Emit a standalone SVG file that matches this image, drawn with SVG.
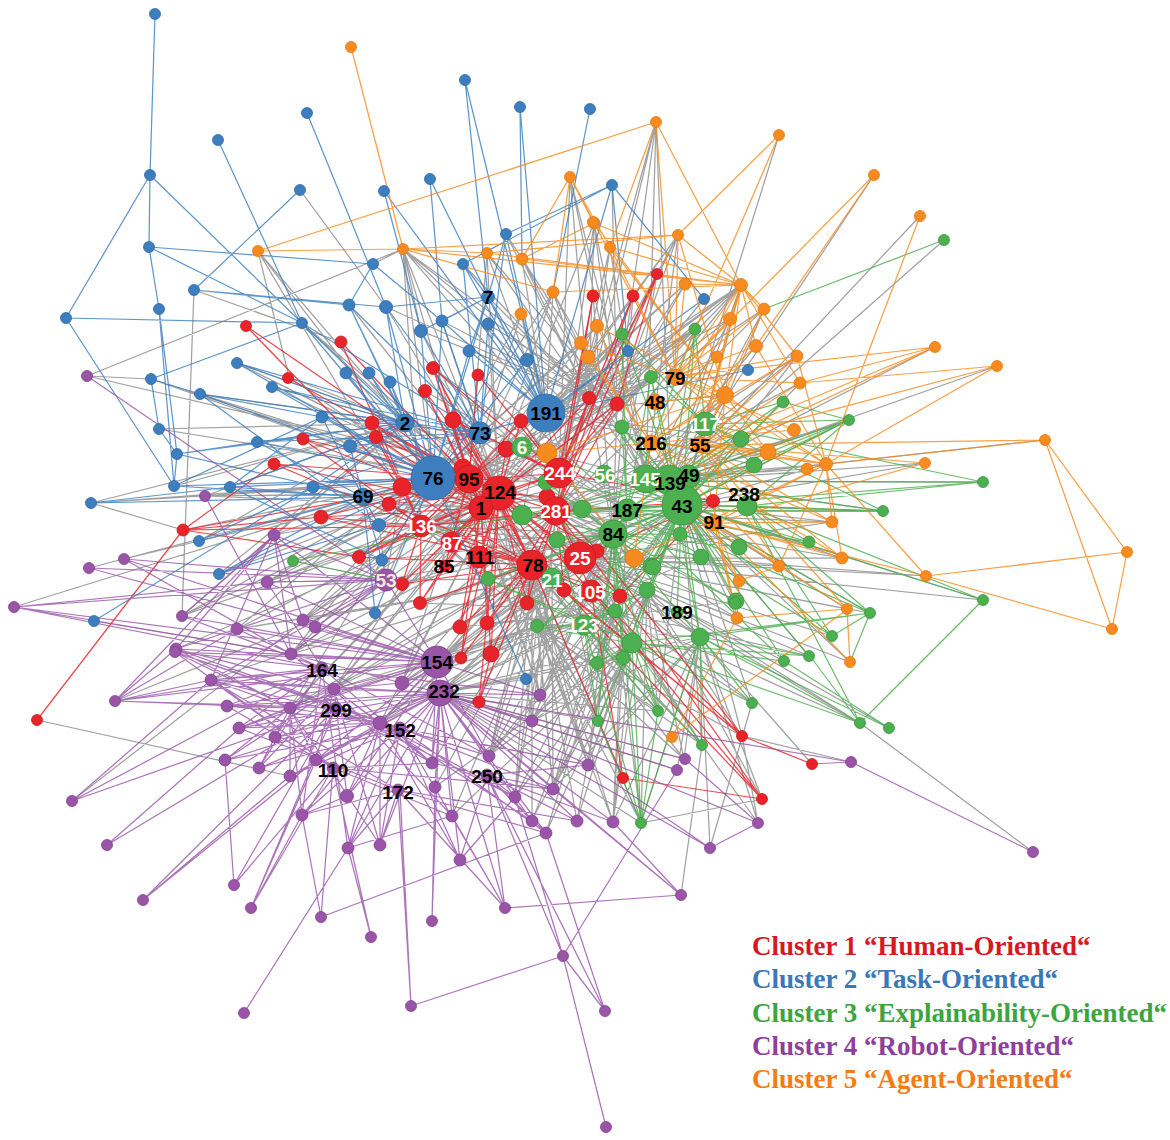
<svg xmlns="http://www.w3.org/2000/svg" width="1170" height="1140" viewBox="0 0 1170 1140">
<style>
.e{fill:none;stroke-width:1.25;stroke-linecap:round;opacity:.82}
.eg{stroke:#8c8c8c}.er{stroke:#e8222a}.eb{stroke:#3c7fc0}.egr{stroke:#4dae4f}.eo{stroke:#f78b1f}.ep{stroke:#9a57aa}
.B{fill:#3d7ebf;stroke:#2f6aa5;stroke-width:.8}
.R{fill:#e8242a;stroke:#c81a20;stroke-width:.8}
.G{fill:#4caf50;stroke:#3c963f;stroke-width:.8}
.P{fill:#9a55a8;stroke:#82418f;stroke-width:.8}
.O{fill:#f78b1f;stroke:#e07812;stroke-width:.8}
.t{font-family:"Liberation Sans",Arial,sans-serif;font-weight:bold;font-size:19px;text-anchor:middle;dominant-baseline:central}
.k{fill:#000}.w{fill:#fff}.c{fill:#f6ecd2}
.lg{font-family:"Liberation Serif","Times New Roman",serif;font-weight:bold;font-size:27px}
</style>
<rect width="1170" height="1140" fill="#fff"/>
<g id="connectors">
<path class="e eg" d="M433 478L290 708M433 478L291 654M433 478L386 580M433 478L274 535M433 478L205 496M433 478L182 616M433 478L267 582M433 478L303 620M433 478L522 515M433 478L582 506M433 478L546 482M433 478L488 579M433 478L557 540M433 478L547 453M433 478L403 249M433 478L258 251M433 478L553 292M433 478L521 314M433 478L581 343M433 478L588 357M433 478L597 326M433 478L151 379M433 478L91 503M433 478L183 530M433 478L289 377
M546 413L741 285M546 413L678 235M546 413L685 284M546 413L730 319M546 413L725 395M546 413L695 329M546 413L622 334M546 413L651 377M546 413L768 452M546 413L622 427M546 413L741 439M546 413L754 465M546 413L582 506M546 413L522 515M546 413L403 249M546 413L487 253M546 413L522 259M546 413L553 292M546 413L402 487M546 413L402 584
M682 505L741 285M682 505L764 309M682 505L797 356M682 505L800 383M682 505L826 464M682 505L849 420M682 505L925 463M682 505L883 511M682 505L832 522M682 505L842 558M682 505L779 566M682 505L739 581M682 505L737 618M682 505L847 609M682 505L850 662M682 505L809 656M682 505L870 613M682 505L983 600M682 505L735 603M682 505L702 745M682 505L658 711M682 505L598 721M682 505L752 703M682 505L742 736M682 505L589 398M682 505L617 404M682 505L713 501M682 505L559 473M682 505L556 511M682 505L532 565M682 505L580 558M682 505L440 693M682 505L437 662M682 505L532 721M682 505L540 695M682 505L489 756
M440 693L598 721M440 693L641 823M440 693L658 711M440 693L597 663M440 693L632 643M440 693L700 637M440 693L615 611M440 693L542 628M440 693L526 679M440 693L684 759M440 693L677 770M440 693L623 658M440 693L647 590
M499 493L290 708M499 493L334 689M499 493L380 723M499 493L402 683M499 493L540 695M499 493L532 721M499 493L588 765M499 493L237 629M499 493L303 620M499 493L267 582M499 493L274 535M499 493L205 496M499 493L151 379M499 493L237 363M499 493L302 323M499 493L386 307M499 493L349 305M499 493L421 331M499 493L442 321M499 493L488 324M499 493L403 249M499 493L487 253M499 493L651 377M499 493L695 329M499 493L622 334
M532 565L437 662M532 565L489 756M532 565L515 797M532 565L553 789M532 565L588 765M532 565L613 822M532 565L641 823M532 565L598 721M532 565L702 745M532 565L684 759M532 565L577 821M532 565L532 821M532 565L380 723M532 565L334 689M532 565L290 708M532 565L211 680
M580 558L658 711M580 558L702 745M580 558L752 703M580 558L860 723M580 558L809 656M580 558L784 661M580 558L870 613M580 558L832 636M580 558L847 609M580 558L850 662M580 558L737 618M580 558L779 566M580 558L842 558M580 558L832 522M580 558L926 576M580 558L983 600
M671 481L935 347M671 481L997 366M671 481L1045 440M671 481L925 463M671 481L944 240M671 481L874 175M671 481L920 216M671 481L779 135M671 481L656 122M671 481L741 285M671 481L764 309M671 481L849 420M671 481L983 482M671 481L883 511
M559 473L657 274M559 473L633 296M559 473L593 296M559 473L656 122M559 473L570 177M559 473L594 223M559 473L610 247M559 473L678 235M559 473L685 284M559 473L741 285M559 473L597 326M559 473L695 329M559 473L622 334M559 473L521 314
M405 423L546 482M405 423L522 515M405 423L582 506M405 423L547 453M405 423L258 251M405 423L289 377M405 423L237 363M405 423L272 387M405 423L200 394M405 423L159 429M405 423L257 442M405 423L174 486M405 423L230 487M405 423L91 503M405 423L199 541M405 423L219 574M405 423L182 616M405 423L274 535M405 423L205 496
M386 580L402 487M386 580L379 525M386 580L382 560M386 580L359 557M386 580L293 561M386 580L433 478
M632 643L489 756M632 643L515 797M632 643L553 789M632 643L588 765M632 643L531 821M632 643L546 833M632 643L577 821M632 643L613 822M632 643L452 816M632 643L435 787
M700 637L588 765M700 637L613 822M700 637L684 759M700 637L677 770M700 637L710 848M700 637L758 823M700 637L641 823M700 637L553 789M700 637L532 721
M537 626L290 708M537 626L334 689M537 626L380 723M537 626L402 683M537 626L437 662M537 626L489 756M537 626L515 797M537 626L553 789M537 626L588 765M537 626L613 822M537 626L641 823M537 626L598 721M537 626L658 711M537 626L702 745M537 626L684 759M537 626L742 736M537 626L736 601M537 626L700 637M537 626L651 566M537 626L701 557
M615 611L402 683M615 611L437 662M615 611L489 756M615 611L515 797M615 611L553 789M615 611L532 821M615 611L546 833M615 611L577 821M615 611L641 823M615 611L702 745M615 611L752 703M615 611L860 723M615 611L809 656M615 611L420 603M615 611L460 627M615 611L487 623
M647 590L532 721M647 590L540 695M647 590L588 765M647 590L553 789M647 590L613 822M647 590L641 823M647 590L658 711M647 590L684 759M647 590L742 736M647 590L762 799M647 590L860 723M647 590L889 728
M589 398L403 249M589 398L487 253M589 398L522 259M589 398L553 292M589 398L570 177M589 398L594 223M589 398L610 247M589 398L656 122M589 398L678 235M589 398L741 285M589 398L463 264M589 398L506 234M589 398L488 297M589 398L442 321M589 398L421 331M589 398L386 307
M617 404L403 249M617 404L487 253M617 404L522 259M617 404L553 292M617 404L570 177M617 404L594 223M617 404L656 122M617 404L678 235M617 404L685 284M617 404L730 319M617 404L764 309M617 404L506 234M617 404L612 185M617 404L704 299M617 404L488 324M617 404L527 360
M469 479L622 334M469 479L651 377M469 479L695 329M469 479L741 285M469 479L685 284M469 479L597 326M469 479L521 314M469 479L553 292M469 479L487 253M469 479L403 249M469 479L302 323M469 479L237 363M469 479L272 387M469 479L200 394M469 479L159 429M469 479L257 442M469 479L91 503M469 479L199 541M469 479L219 574M469 479L293 561M469 479L267 582M469 479L303 620M469 479L291 654M469 479L334 689M469 479L402 683M469 479L540 695M469 479L598 721M469 479L632 643M469 479L700 637
M556 511L741 285M556 511L764 309M556 511L797 356M556 511L849 420M556 511L800 383M556 511L741 439M556 511L754 465M556 511L883 511M556 511L832 522M556 511L842 558M556 511L739 547M556 511L701 557M556 511L736 601M556 511L737 618M556 511L700 637M556 511L632 643M556 511L658 711M556 511L702 745M556 511L598 721M556 511L540 695M556 511L532 721M556 511L489 756M556 511L437 662M556 511L402 683M556 511L334 689M556 511L291 654
M613 534L402 487M613 534L379 525M613 534L382 560M613 534L386 580M613 534L402 584M613 534L420 603M613 534L437 662M613 534L440 693M613 534L380 723M613 534L489 756M613 534L532 721M613 534L540 695M613 534L588 765M613 534L526 679M613 534L421 526M613 534L451 542M613 534L479 557M613 534L463 468M613 534L433 368M613 534L453 420M613 534L521 421M613 534L589 398M613 534L617 404M613 534L657 274M613 534L633 296M613 534L593 296
M627 510L433 368M627 510L478 375M627 510L425 391M627 510L453 420M627 510L402 487M627 510L389 504M627 510L421 526M627 510L379 525M627 510L402 584M627 510L460 627M627 510L487 623M627 510L491 654M627 510L437 662M627 510L440 693M627 510L532 721M627 510L489 756M627 510L588 765M627 510L553 789M627 510L613 822
M481 508L622 334M481 508L651 377M481 508L741 285M481 508L678 235M481 508L594 223M481 508L553 292M481 508L741 439M481 508L754 465M481 508L632 643M481 508L700 637M481 508L598 721M481 508L658 711M481 508L540 695M481 508L291 654M481 508L290 708M481 508L334 689M481 508L267 582M481 508L182 616M481 508L205 496
M421 526L546 482M421 526L522 515M421 526L582 509M421 526L557 540M421 526L488 579M421 526L542 628M421 526L632 643M421 526L615 611M421 526L647 590M421 526L651 566M421 526L622 427M421 526L651 377M421 526L695 329M421 526L403 249M421 526L258 251
M552 578L290 708M552 578L334 689M552 578L380 723M552 578L402 683M552 578L291 654M552 578L303 620M552 578L267 582M552 578L237 629M552 578L432 763M552 578L435 787M552 578L452 816M552 578L515 797M552 578L553 789
M646 479L403 249M646 479L487 253M646 479L522 259M646 479L553 292M646 479L594 223M646 479L610 247M646 479L570 177M646 479L656 122M646 479L678 235M646 479L730 319M646 479L756 346M646 479L797 356M646 479L725 395M646 479L768 452M646 479L826 464M646 479L807 469M646 479L547 453
M87 376L403 249M87 376L151 379M87 376L546 482M14 607L402 487M89 568L433 478M115 701L402 584M72 801L382 560M37 720L290 776M94 621L291 654M762 799L700 637M681 895L702 745M710 848L752 703M758 823L742 736M758 823L702 745M613 822L623 658M194 290L182 616M194 290L341 342M300 190L386 307M258 251L289 377M403 249L421 331M373 264L403 249M851 762L742 736M926 576L597 551M91 503L183 530M124 559L199 541M182 616L379 525M176 649L382 560M237 629L402 487M1033 852L860 723M762 799L641 823M812 764L700 637"/>
<path class="e er" d="M499 493L469 479M499 493L481 508M499 493L559 473M499 493L556 511M499 493L421 526M499 493L451 542M499 493L479 557M499 493L445 566M499 493L532 565M499 493L580 558M499 493L591 591M499 493L433 368M499 493L425 391M499 493L453 420M499 493L521 421M499 493L506 449M499 493L402 487M499 493L388 504M499 493L463 468M499 493L547 497M499 493L598 550M499 493L620 596M499 493L564 590M499 493L527 603M499 493L487 623M499 493L460 627M499 493L420 603M499 493L402 584M499 493L359 557M499 493L589 398M499 493L617 404M499 493L372 423M499 493L376 437M499 493L491 654M499 493L461 658M499 493L479 702
M532 565L421 526M532 565L451 542M532 565L402 487M532 565L388 504M532 565L321 517M532 565L359 557M532 565L402 584M532 565L420 603M532 565L460 627M532 565L487 623M532 565L527 603M532 565L491 654M532 565L461 658M532 565L479 702M532 565L598 550M532 565L620 596M532 565L564 590M532 565L591 591M532 565L453 420M532 565L433 368M532 565L623 778M532 565L742 736
M559 473L433 368M559 473L478 375M559 473L453 420M559 473L521 421M559 473L506 449M559 473L589 398M559 473L617 404M559 473L657 274M559 473L633 296M559 473L593 296M559 473L713 501M559 473L402 487M559 473L421 526
M469 479L341 342M469 479L288 378M469 479L303 439M469 479L274 464M469 479L246 326M469 479L372 423M469 479L376 437M469 479L321 517M469 479L389 504M469 479L359 557M469 479L183 530M469 479L425 391M469 479L453 420M469 479L433 368M469 479L478 375M469 479L402 487M469 479L421 526M469 479L451 542M469 479L479 557M469 479L445 566M469 479L532 565M469 479L506 449M469 479L521 421M469 479L463 468
M556 511L589 398M556 511L617 404M556 511L598 550M556 511L564 590M556 511L620 596M556 511L527 603M556 511L487 623M556 511L591 591M556 511L580 558M556 511L532 565M556 511L421 526M556 511L451 542M556 511L713 501M556 511L657 274M556 511L633 296
M481 508L433 368M481 508L425 391M481 508L372 423M481 508L376 437M481 508L303 439M481 508L274 464M481 508L321 517M481 508L359 557M481 508L402 584M481 508L420 603M481 508L460 627M481 508L487 623M481 508L491 654M481 508L461 658
M421 526L402 487M421 526L389 504M421 526L321 517M421 526L303 439M421 526L274 464M421 526L372 423M421 526L376 437M421 526L359 557M421 526L402 584M421 526L420 603M421 526L183 530
M591 591L742 736M591 591L762 799M591 591L623 778M564 590L742 736M620 596L762 799M620 596L713 501M598 550L713 501
M37 720L183 530M183 530L359 557M183 530L321 517M183 530L274 464M246 326L402 487M742 736L812 764M742 736L598 550M623 778L762 799M762 799L564 590M479 702L491 654M657 274L617 404M633 296L556 511M593 296L556 511M341 342L421 526M303 439L421 526M274 464L421 526"/>
<path class="e eb" d="M150 175L155 14M150 175L149 247M150 175L66 318M150 175L302 323M149 247L159 309M149 247L373 264M149 247L302 323M66 318L302 323M66 318L174 486M159 309L177 454M159 309L174 486M194 290L300 190M194 290L349 305M194 290L386 307M218 140L302 323M307 113L386 307M465 80L488 297M520 107L522 259M590 109L553 292M506 234L612 185M463 264L612 185M612 185L628 351M612 185L704 299M430 179L442 321M384 191L421 331M373 264L349 305M373 264L442 321M151 379L302 323M151 379L159 429M151 379L200 394M200 394L322 417M200 394L379 525M159 429L177 454M177 454L174 486M177 454L257 442M91 503L230 487M174 486L322 417M230 487L322 417M230 487L382 560M199 541L313 487M94 621L313 487M219 574L379 525
M433 478L405 423M433 478L480 433M433 478L363 497M433 478L302 323M433 478L349 305M433 478L386 307M433 478L421 331M433 478L442 321M433 478L322 417M433 478L350 446M433 478L313 487M433 478L379 525M433 478L382 560M433 478L375 613M433 478L257 442M433 478L272 387M433 478L237 363M433 478L488 297M433 478L469 351M433 478L527 360M433 478L346 373M433 478L369 373M433 478L390 382M433 478L174 486M433 478L230 487M433 478L200 394M433 478L199 541M433 478L219 574M433 478L526 679
M546 413L488 297M546 413L506 234M546 413L463 264M546 413L527 360M546 413L469 351M546 413L488 324M546 413L612 185M546 413L628 351M546 413L704 299M546 413L748 370M546 413L480 433M546 413L442 321M546 413L430 179M546 413L384 191M546 413L520 107M546 413L465 80
M480 433L488 324M480 433L442 321M480 433L421 331M480 433L386 307M480 433L349 305M480 433L237 363M480 433L302 323M480 433L272 387M480 433L322 417M480 433L350 446M480 433L313 487M480 433L257 442M480 433L200 394M480 433L506 234M480 433L463 264
M405 423L349 305M405 423L322 417M405 423L386 307M405 423L302 323M405 423L237 363M405 423L272 387M405 423L346 373M405 423L369 373M405 423L390 382M405 423L257 442M405 423L350 446M405 423L313 487M405 423L230 487M405 423L177 454M405 423L200 394
M363 497L313 487M363 497L350 446M363 497L322 417M363 497L257 442M363 497L230 487M363 497L174 486M363 497L177 454M363 497L199 541M363 497L219 574M363 497L379 525M363 497L382 560M363 497L375 613M363 497L91 503
M488 297L506 234M488 297L463 264M488 297L442 321M488 297L421 331M488 297L386 307M488 297L527 360M488 297L469 351"/>
<path class="e egr" d="M682 505L695 329M682 505L622 334M682 505L651 377M682 505L783 402M682 505L849 420M682 505L622 427M682 505L741 439M682 505L754 465M682 505L983 482M682 505L883 511M682 505L582 509M682 505L680 534M682 505L809 542M682 505L739 547M682 505L701 557M682 505L651 566M682 505L647 590M682 505L615 611M682 505L700 637M682 505L632 643M682 505L597 663M682 505L623 658M682 505L736 601M682 505L870 613M682 505L832 636M682 505L983 600M682 505L809 656M682 505L784 661M682 505L557 540M682 505L546 482M682 505L522 515M682 505L488 579M682 505L542 628M682 505L653 567M682 505L604 474M682 505L646 479M682 505L705 424M682 505L627 510M682 505L613 534M682 505L747 506M682 505L552 578M682 505L584 625M682 505L522 447M682 505L677 612
M671 481L849 420M671 481L983 482M671 481L883 511M671 481L741 439M671 481L754 465M671 481L783 402M671 481L695 329M671 481L651 377M671 481L622 427M671 481L522 515M671 481L582 509M671 481L736 601M671 481L700 637
M632 643L598 721M632 643L658 711M632 643L702 745M632 643L641 823M632 643L752 703M632 643L597 663M632 643L623 658M632 643L542 628M632 643L488 579M632 643L860 723M632 643L809 656M632 643L784 661M632 643L870 613
M700 637L752 703M700 637L702 745M700 637L860 723M700 637L889 728M700 637L809 656M700 637L870 613M700 637L641 823
M613 534L546 482M613 534L522 515M613 534L582 509M613 534L557 540M613 534L488 579M613 534L542 628M613 534L597 663M613 534L623 658M613 534L632 643M613 534L615 611M613 534L647 590M613 534L651 566M613 534L701 557M613 534L680 534M613 534L739 547M613 534L736 601M613 534L700 637M613 534L598 721M613 534L658 711M613 534L641 823
M627 510L695 329M627 510L622 334M627 510L651 377M627 510L622 427M627 510L741 439M627 510L754 465M627 510L783 402M627 510L849 420M627 510L883 511M627 510L809 542M627 510L870 613M627 510L832 636M627 510L784 661
M705 424L849 420M705 424L883 511M705 424L983 482M705 424L783 402M705 424L741 439M705 424L754 465M705 424L695 329M705 424L622 334M705 424L651 377
M747 506L849 420M747 506L883 511M747 506L983 482M747 506L983 600M747 506L870 613M747 506L832 636M747 506L809 542M747 506L860 723
M584 625L537 626M584 625L598 721M584 625L658 711M584 625L641 823M584 625L702 745M584 625L615 611M584 625L647 590M584 625L542 628M584 625L488 579M584 625L557 540
M944 240L764 309M983 482L747 506M983 600L860 723M889 728L784 661M860 723L810 656M849 420L747 506M293 561L386 580M293 561L522 515M641 823L598 721M641 823L658 711M870 613L832 636M870 613L850 662M849 420L754 465M849 420L783 402"/>
<path class="e eo" d="M351 47L403 249M258 251L403 249M258 251L656 122M403 249L487 253M403 249L678 235M403 249L553 292M487 253L678 235M522 259L570 177M522 259L594 223M570 177L593 222M570 177L610 247M570 177L553 292M656 122L610 247M779 135L678 235M874 175L756 346M920 216L826 464M935 347L800 383M935 347L741 439M997 366L800 383M1045 440L1127 552M1045 440L1112 629M1127 552L1112 629M1127 552L926 576M926 576L1112 629M926 576L826 464M850 662L847 609M847 609L737 618M737 618L672 737M672 737L848 609M779 566L739 581M739 581L737 618M634 558L547 453M547 453L651 443
M741 285L656 122M741 285L678 235M741 285L685 284M741 285L764 309M741 285L730 319M741 285L756 346M741 285L797 356M741 285L725 395M741 285L800 383M741 285L403 249M741 285L487 253M741 285L522 259M741 285L553 292M741 285L594 223M741 285L610 247
M725 395L675 377M725 395L655 402M725 395L651 443M725 395L700 445M725 395L714 523M725 395L768 452M725 395L826 464M725 395L594 223M725 395L610 247M725 395L678 235M725 395L547 453M725 395L597 326M725 395L581 343
M826 464L756 346M826 464L797 356M826 464L807 469M826 464L768 452M826 464L1045 440M826 464L997 366M826 464L634 558M826 464L832 522M826 464L842 558M826 464L779 566M826 464L714 523M826 464L700 445
M675 377L656 122M675 377L570 177M675 377L594 223M675 377L610 247M675 377L678 235M675 377L685 284M675 377L741 285M675 377L764 309M675 377L730 319M675 377L756 346M675 377L797 356M675 377L717 357M675 377L800 383M675 377L874 175M675 377L779 135M675 377L935 347M675 377L768 452M675 377L794 430M675 377L826 464
M651 443L597 326M651 443L581 343M651 443L588 357M651 443L741 285M651 443L756 346M651 443L797 356M651 443L725 395M651 443L768 452M651 443L826 464M651 443L794 430M651 443L842 558M651 443L832 522M651 443L779 566M651 443L739 581M651 443L634 558
M700 445L741 285M700 445L764 309M700 445L730 319M700 445L797 356M700 445L800 383M700 445L935 347M700 445L997 366M700 445L1045 440M700 445L925 463M700 445L832 522M700 445L842 558M700 445L779 566M700 445L737 618M700 445L847 609
M714 523L925 463M714 523L842 558M714 523L847 609M714 523L850 662M714 523L737 618M714 523L739 581M714 523L779 566M714 523L832 522M714 523L926 576"/>
<path class="e ep" d="M440 693L380 723M440 693L402 683M440 693L432 763M440 693L435 787M440 693L489 756M440 693L515 797M440 693L553 789M440 693L532 821M440 693L546 833M440 693L577 821M440 693L452 816M440 693L460 860M440 693L380 845M440 693L348 848M440 693L347 796M440 693L316 760M440 693L290 776M440 693L290 708M440 693L334 689M440 693L291 654M440 693L239 728M440 693L275 737M440 693L259 768M440 693L225 760M440 693L211 680M440 693L227 706M440 693L302 815M440 693L540 695M440 693L532 721M440 693L588 765M440 693L613 822M440 693L505 908M440 693L432 921M440 693L685 759M440 693L677 770M440 693L851 762M440 693L710 848M440 693L758 823M440 693L681 895
M437 662L291 654M437 662L175 652M437 662L211 680M437 662L402 683M437 662L334 689M437 662L290 708M437 662L267 582M437 662L303 620M437 662L315 627M437 662L237 629M437 662L386 580M437 662L274 535M437 662L380 723M437 662L239 728M437 662L316 760M437 662L347 796M437 662L432 763M437 662L489 756M437 662L540 695M437 662L14 607M437 662L89 568M437 662L124 559M437 662L182 616M437 662L176 649M437 662L115 701
M334 689L176 649M334 689L211 680M334 689L227 706M334 689L239 728M334 689L291 654M334 689L225 760M334 689L259 768M334 689L290 776M334 689L316 760M334 689L347 796M334 689L380 723M334 689L402 683M334 689L432 763M334 689L452 816M334 689L380 845
M322 668L175 652M322 668L211 680M322 668L115 701M322 668L237 629M322 668L267 582M322 668L182 616M322 668L227 706M322 668L239 728M322 668L275 737M322 668L259 768M322 668L302 815M322 668L348 848M322 668L432 763M322 668L489 756M322 668L540 695M322 668L14 607M322 668L72 801
M380 723L290 708M380 723L227 706M380 723L239 728M380 723L275 737M380 723L316 760M380 723L302 815M380 723L347 796M380 723L348 848M380 723L380 845M380 723L432 763M380 723L460 860M380 723L489 756M380 723L515 797M380 723L532 821
M400 728L211 680M400 728L175 652M400 728L176 649M400 728L259 768M400 728L225 760M400 728L290 776M400 728L348 848M400 728L380 845M400 728L460 860M400 728L505 908M400 728L553 789M400 728L588 765M400 728L546 833
M290 708L176 649M290 708L175 652M290 708L211 680M290 708L115 701M290 708L227 706M290 708L239 728M290 708L259 768M290 708L225 760M290 708L290 776M290 708L302 815M290 708L316 760M290 708L380 845
M336 708L175 652M336 708L115 701M336 708L72 801M336 708L107 845M336 708L143 900M336 708L234 885M336 708L251 908M336 708L432 763M336 708L489 756M336 708L515 797
M333 768L211 680M333 768L227 706M333 768L175 652M333 768L234 885M333 768L251 908M333 768L321 917M333 768L371 937M333 768L432 763M333 768L452 816M333 768L553 789
M398 790L211 680M398 790L239 728M398 790L302 815M398 790L348 848M398 790L380 845M398 790L411 1006M398 790L505 908M398 790L546 833M398 790L577 821
M487 775L432 763M487 775L515 797M487 775L553 789M487 775L588 765M487 775L532 821M487 775L546 833M487 775L577 821M487 775L613 822M487 775L505 908M487 775L460 860M487 775L563 956M487 775L605 1011
M386 580L274 535M386 580L267 582M386 580L303 620M386 580L315 627M386 580L237 629M386 580L291 654M386 580L176 649M386 580L211 680M386 580L124 559M386 580L89 568M386 580L14 607M386 580L87 376
M274 535L176 649M274 535L115 701M274 535L211 680M274 535L291 654M274 535L303 620M274 535L182 616M205 496L291 654M124 559L291 654M14 607L267 582M14 607L291 654M115 701L237 629M115 701L211 680M115 701L176 649M72 801L211 680M107 845L239 729M143 900L290 776M234 885L225 760M251 908L316 760M251 908L302 815M321 917L302 815M321 917L546 833M371 937L348 848M432 921L435 787M505 908L452 816M505 908L681 895M563 956L411 1006M563 956L605 1011M563 956L606 1127M563 956L677 770M563 956L515 797M411 1006L400 790M244 1013L348 848M605 1011L546 833M681 895L553 789M681 895L613 822M1033 852L851 762M851 762L812 764M710 848L758 823M710 848L588 765M758 823L685 759M316 760L143 900M347 796L302 815M460 860L515 797M348 848L452 816"/>
</g>
<g id="nodes">
<g id="nb1"><circle class="B" cx="155" cy="14" r="5.5"/></g><g id="nb2"><circle class="B" cx="150" cy="175" r="5.5"/></g><g id="nb3"><circle class="B" cx="149" cy="247" r="5.5"/></g><g id="nb4"><circle class="B" cx="66" cy="318" r="5.5"/></g><g id="nb5"><circle class="B" cx="159" cy="309" r="5.5"/></g><g id="nb6"><circle class="B" cx="194" cy="290" r="5.5"/></g><g id="nb7"><circle class="B" cx="218" cy="140" r="5.5"/></g><g id="nb8"><circle class="B" cx="300" cy="190" r="5.5"/></g><g id="nb9"><circle class="B" cx="307" cy="113" r="5.5"/></g><g id="nb10"><circle class="B" cx="373" cy="264" r="5.5"/></g><g id="nb11"><circle class="B" cx="384" cy="191" r="5.5"/></g><g id="nb12"><circle class="B" cx="430" cy="179" r="5.5"/></g><g id="nb13"><circle class="B" cx="465" cy="80" r="5.5"/></g><g id="nb14"><circle class="B" cx="520" cy="107" r="5.5"/></g><g id="nb15"><circle class="B" cx="590" cy="109" r="5.5"/></g><g id="nb16"><circle class="B" cx="506" cy="234" r="5.5"/></g><g id="nb17"><circle class="B" cx="463" cy="264" r="5.5"/></g><g id="nb18"><circle class="B" cx="488" cy="324" r="6"/></g><g id="nb19"><circle class="B" cx="442" cy="321" r="6"/></g><g id="nb20"><circle class="B" cx="421" cy="331" r="6.5"/></g><g id="nb21"><circle class="B" cx="386" cy="307" r="6.5"/></g><g id="nb22"><circle class="B" cx="349" cy="305" r="6"/></g><g id="nb23"><circle class="B" cx="302" cy="323" r="5.5"/></g><g id="nb24"><circle class="B" cx="237" cy="363" r="5.5"/></g><g id="nb25"><circle class="B" cx="151" cy="379" r="5.5"/></g><g id="nb26"><circle class="B" cx="346" cy="373" r="6"/></g><g id="nb27"><circle class="B" cx="369" cy="373" r="6"/></g><g id="nb28"><circle class="B" cx="390" cy="382" r="6"/></g><g id="nb29"><circle class="B" cx="469" cy="351" r="6"/></g><g id="nb30"><circle class="B" cx="527" cy="360" r="6.5"/></g><g id="nb31"><circle class="B" cx="612" cy="185" r="5.5"/></g><g id="nb32"><circle class="B" cx="704" cy="299" r="5.5"/></g><g id="nb33"><circle class="B" cx="628" cy="351" r="5.5"/></g><g id="nb34"><circle class="B" cx="748" cy="370" r="5.5"/></g><g id="nb35"><circle class="B" cx="200" cy="394" r="5.5"/></g><g id="nb36"><circle class="B" cx="272" cy="387" r="5.5"/></g><g id="nb37"><circle class="B" cx="159" cy="429" r="5.5"/></g><g id="nb38"><circle class="B" cx="177" cy="454" r="5.5"/></g><g id="nb39"><circle class="B" cx="257" cy="442" r="5.5"/></g><g id="nb40"><circle class="B" cx="322" cy="417" r="6"/></g><g id="nb41"><circle class="B" cx="350" cy="446" r="6.5"/></g><g id="nb42"><circle class="B" cx="174" cy="486" r="5.5"/></g><g id="nb43"><circle class="B" cx="230" cy="487" r="5.5"/></g><g id="nb44"><circle class="B" cx="313" cy="487" r="6"/></g><g id="nb45"><circle class="B" cx="91" cy="503" r="5.5"/></g><g id="nb46"><circle class="B" cx="199" cy="541" r="5.5"/></g><g id="nb47"><circle class="B" cx="379" cy="525" r="6.5"/></g><g id="nb48"><circle class="B" cx="382" cy="560" r="6"/></g><g id="nb49"><circle class="B" cx="219" cy="574" r="5.5"/></g><g id="nb50"><circle class="B" cx="94" cy="621" r="5.5"/></g><g id="nb51"><circle class="B" cx="375" cy="613" r="5.5"/></g><g id="nb52"><circle class="B" cx="526" cy="679" r="5.5"/></g>
<g id="nr1"><circle class="R" cx="246" cy="326" r="5.5"/></g><g id="nr2"><circle class="R" cx="341" cy="342" r="6"/></g><g id="nr3"><circle class="R" cx="433" cy="368" r="6.5"/></g><g id="nr4"><circle class="R" cx="478" cy="375" r="6"/></g><g id="nr5"><circle class="R" cx="288" cy="378" r="5.5"/></g><g id="nr6"><circle class="R" cx="303" cy="439" r="6"/></g><g id="nr7"><circle class="R" cx="372" cy="423" r="7"/></g><g id="nr8"><circle class="R" cx="376" cy="437" r="6.5"/></g><g id="nr9"><circle class="R" cx="274" cy="464" r="6"/></g><g id="nr10"><circle class="R" cx="321" cy="517" r="7"/></g><g id="nr11"><circle class="R" cx="389" cy="504" r="7"/></g><g id="nr12"><circle class="R" cx="183" cy="530" r="6"/></g><g id="nr13"><circle class="R" cx="359" cy="557" r="6.5"/></g><g id="nr14"><circle class="R" cx="37" cy="720" r="5.5"/></g><g id="nr15"><circle class="R" cx="657" cy="274" r="5.5"/></g><g id="nr16"><circle class="R" cx="593" cy="296" r="6"/></g><g id="nr17"><circle class="R" cx="633" cy="296" r="6"/></g><g id="nr18"><circle class="R" cx="589" cy="398" r="6.5"/></g><g id="nr19"><circle class="R" cx="617" cy="404" r="7"/></g><g id="nr20"><circle class="R" cx="713" cy="501" r="6.5"/></g><g id="nr21"><circle class="R" cx="597" cy="551" r="7"/></g><g id="nr22"><circle class="R" cx="564" cy="590" r="7"/></g><g id="nr23"><circle class="R" cx="620" cy="596" r="7"/></g><g id="nr24"><circle class="R" cx="425" cy="391" r="6.5"/></g><g id="nr25"><circle class="R" cx="453" cy="420" r="8"/></g><g id="nr26"><circle class="R" cx="521" cy="421" r="7"/></g><g id="nr27"><circle class="R" cx="506" cy="449" r="8"/></g><g id="nr28"><circle class="R" cx="402" cy="487" r="9"/></g><g id="nr29"><circle class="R" cx="463" cy="468" r="9"/></g><g id="nr30"><circle class="R" cx="402" cy="584" r="6.5"/></g><g id="nr31"><circle class="R" cx="420" cy="603" r="6.5"/></g><g id="nr32"><circle class="R" cx="460" cy="627" r="7"/></g><g id="nr33"><circle class="R" cx="487" cy="623" r="7"/></g><g id="nr34"><circle class="R" cx="527" cy="603" r="7"/></g><g id="nr35"><circle class="R" cx="491" cy="654" r="8"/></g><g id="nr36"><circle class="R" cx="461" cy="658" r="6"/></g><g id="nr37"><circle class="R" cx="547" cy="497" r="8"/></g><g id="nr38"><circle class="R" cx="479" cy="702" r="6"/></g><g id="nr39"><circle class="R" cx="623" cy="778" r="5.5"/></g><g id="nr40"><circle class="R" cx="742" cy="736" r="5.5"/></g><g id="nr41"><circle class="R" cx="812" cy="764" r="5.5"/></g><g id="nr42"><circle class="R" cx="762" cy="799" r="5.5"/></g>
<g id="ng1"><circle class="G" cx="695" cy="329" r="6"/></g><g id="ng2"><circle class="G" cx="622" cy="334" r="6"/></g><g id="ng3"><circle class="G" cx="651" cy="377" r="6.5"/></g><g id="ng4"><circle class="G" cx="783" cy="402" r="6"/></g><g id="ng5"><circle class="G" cx="849" cy="420" r="5.5"/></g><g id="ng6"><circle class="G" cx="622" cy="427" r="7"/></g><g id="ng7"><circle class="G" cx="741" cy="439" r="8"/></g><g id="ng8"><circle class="G" cx="754" cy="465" r="8"/></g><g id="ng9"><circle class="G" cx="983" cy="482" r="5.5"/></g><g id="ng10"><circle class="G" cx="883" cy="511" r="5.5"/></g><g id="ng11"><circle class="G" cx="582" cy="509" r="9"/></g><g id="ng12"><circle class="G" cx="680" cy="534" r="7"/></g><g id="ng13"><circle class="G" cx="809" cy="542" r="6"/></g><g id="ng14"><circle class="G" cx="739" cy="547" r="8"/></g><g id="ng15"><circle class="G" cx="701" cy="557" r="8"/></g><g id="ng16"><circle class="G" cx="651" cy="566" r="8"/></g><g id="ng17"><circle class="G" cx="647" cy="590" r="8"/></g><g id="ng18"><circle class="G" cx="615" cy="611" r="7"/></g><g id="ng19"><circle class="G" cx="700" cy="637" r="9"/></g><g id="ng20"><circle class="G" cx="632" cy="643" r="10"/></g><g id="ng21"><circle class="G" cx="597" cy="663" r="6.5"/></g><g id="ng22"><circle class="G" cx="623" cy="658" r="7"/></g><g id="ng23"><circle class="G" cx="736" cy="601" r="8"/></g><g id="ng24"><circle class="G" cx="870" cy="613" r="5.5"/></g><g id="ng25"><circle class="G" cx="832" cy="636" r="5.5"/></g><g id="ng26"><circle class="G" cx="983" cy="600" r="5.5"/></g><g id="ng27"><circle class="G" cx="809" cy="656" r="5.5"/></g><g id="ng28"><circle class="G" cx="784" cy="661" r="5.5"/></g><g id="ng29"><circle class="G" cx="557" cy="540" r="8"/></g><g id="ng30"><circle class="G" cx="546" cy="482" r="8"/></g><g id="ng31"><circle class="G" cx="522" cy="515" r="10"/></g><g id="ng32"><circle class="G" cx="488" cy="579" r="7"/></g><g id="ng33"><circle class="G" cx="537" cy="626" r="6.5"/></g><g id="ng34"><circle class="G" cx="653" cy="567" r="8"/></g><g id="ng35"><circle class="G" cx="293" cy="561" r="5.5"/></g><g id="ng36"><circle class="G" cx="598" cy="721" r="5.5"/></g><g id="ng37"><circle class="G" cx="658" cy="711" r="5.5"/></g><g id="ng38"><circle class="G" cx="702" cy="745" r="5.5"/></g><g id="ng39"><circle class="G" cx="641" cy="823" r="5.5"/></g><g id="ng40"><circle class="G" cx="752" cy="703" r="5.5"/></g><g id="ng41"><circle class="G" cx="860" cy="723" r="5.5"/></g><g id="ng42"><circle class="G" cx="889" cy="728" r="5.5"/></g><g id="ng43"><circle class="G" cx="735" cy="603" r="6"/></g><g id="ng44"><circle class="G" cx="944" cy="240" r="5.5"/></g>
<g id="no1"><circle class="O" cx="351" cy="47" r="5.5"/></g><g id="no2"><circle class="O" cx="258" cy="251" r="5.5"/></g><g id="no3"><circle class="O" cx="403" cy="249" r="5.5"/></g><g id="no4"><circle class="O" cx="487" cy="253" r="5.5"/></g><g id="no5"><circle class="O" cx="522" cy="259" r="6"/></g><g id="no6"><circle class="O" cx="570" cy="177" r="5.5"/></g><g id="no7"><circle class="O" cx="594" cy="223" r="6"/></g><g id="no8"><circle class="O" cx="553" cy="292" r="6"/></g><g id="no9"><circle class="O" cx="521" cy="314" r="6"/></g><g id="no10"><circle class="O" cx="581" cy="343" r="6.5"/></g><g id="no11"><circle class="O" cx="588" cy="357" r="7"/></g><g id="no12"><circle class="O" cx="656" cy="122" r="5.5"/></g><g id="no13"><circle class="O" cx="779" cy="135" r="5.5"/></g><g id="no14"><circle class="O" cx="874" cy="175" r="5.5"/></g><g id="no15"><circle class="O" cx="920" cy="216" r="5.5"/></g><g id="no16"><circle class="O" cx="593" cy="222" r="5.5"/></g><g id="no17"><circle class="O" cx="610" cy="247" r="5.5"/></g><g id="no18"><circle class="O" cx="678" cy="235" r="5.5"/></g><g id="no19"><circle class="O" cx="685" cy="284" r="6"/></g><g id="no20"><circle class="O" cx="741" cy="285" r="6.5"/></g><g id="no21"><circle class="O" cx="764" cy="309" r="6"/></g><g id="no22"><circle class="O" cx="730" cy="319" r="6.5"/></g><g id="no23"><circle class="O" cx="756" cy="346" r="6.5"/></g><g id="no24"><circle class="O" cx="797" cy="356" r="6"/></g><g id="no25"><circle class="O" cx="597" cy="326" r="6.5"/></g><g id="no26"><circle class="O" cx="717" cy="357" r="6"/></g><g id="no27"><circle class="O" cx="725" cy="395" r="8.5"/></g><g id="no28"><circle class="O" cx="800" cy="383" r="6"/></g><g id="no29"><circle class="O" cx="935" cy="347" r="5.5"/></g><g id="no30"><circle class="O" cx="997" cy="366" r="5.5"/></g><g id="no31"><circle class="O" cx="794" cy="430" r="6.5"/></g><g id="no32"><circle class="O" cx="768" cy="452" r="8"/></g><g id="no33"><circle class="O" cx="826" cy="464" r="6.5"/></g><g id="no34"><circle class="O" cx="807" cy="469" r="6"/></g><g id="no35"><circle class="O" cx="925" cy="463" r="5.5"/></g><g id="no36"><circle class="O" cx="1045" cy="440" r="5.5"/></g><g id="no37"><circle class="O" cx="1127" cy="552" r="5.5"/></g><g id="no38"><circle class="O" cx="1112" cy="629" r="5.5"/></g><g id="no39"><circle class="O" cx="926" cy="576" r="5.5"/></g><g id="no40"><circle class="O" cx="832" cy="522" r="6"/></g><g id="no41"><circle class="O" cx="842" cy="558" r="6"/></g><g id="no42"><circle class="O" cx="779" cy="566" r="6"/></g><g id="no43"><circle class="O" cx="739" cy="581" r="6"/></g><g id="no44"><circle class="O" cx="737" cy="618" r="6"/></g><g id="no45"><circle class="O" cx="847" cy="609" r="5.5"/></g><g id="no46"><circle class="O" cx="850" cy="662" r="5.5"/></g><g id="no47"><circle class="O" cx="634" cy="558" r="9"/></g><g id="no48"><circle class="O" cx="547" cy="453" r="10"/></g><g id="no49"><circle class="O" cx="672" cy="737" r="5.5"/></g>
<g id="np1"><circle class="P" cx="87" cy="376" r="5.5"/></g><g id="np2"><circle class="P" cx="205" cy="496" r="5.5"/></g><g id="np3"><circle class="P" cx="274" cy="535" r="6"/></g><g id="np4"><circle class="P" cx="124" cy="559" r="5.5"/></g><g id="np5"><circle class="P" cx="89" cy="568" r="5.5"/></g><g id="np6"><circle class="P" cx="14" cy="607" r="5.5"/></g><g id="np7"><circle class="P" cx="182" cy="616" r="5.5"/></g><g id="np8"><circle class="P" cx="267" cy="582" r="6"/></g><g id="np9"><circle class="P" cx="303" cy="620" r="6"/></g><g id="np10"><circle class="P" cx="315" cy="627" r="6"/></g><g id="np11"><circle class="P" cx="237" cy="629" r="6"/></g><g id="np12"><circle class="P" cx="176" cy="649" r="6"/></g><g id="np13"><circle class="P" cx="291" cy="654" r="6"/></g><g id="np14"><circle class="P" cx="211" cy="680" r="6"/></g><g id="np15"><circle class="P" cx="115" cy="701" r="5.5"/></g><g id="np16"><circle class="P" cx="227" cy="706" r="6"/></g><g id="np17"><circle class="P" cx="290" cy="708" r="6"/></g><g id="np18"><circle class="P" cx="334" cy="689" r="6"/></g><g id="np19"><circle class="P" cx="239" cy="728" r="6"/></g><g id="np20"><circle class="P" cx="275" cy="737" r="6"/></g><g id="np21"><circle class="P" cx="175" cy="652" r="5.5"/></g><g id="np22"><circle class="P" cx="402" cy="683" r="7"/></g><g id="np23"><circle class="P" cx="380" cy="723" r="7"/></g><g id="np24"><circle class="P" cx="432" cy="763" r="6"/></g><g id="np25"><circle class="P" cx="489" cy="756" r="6"/></g><g id="np26"><circle class="P" cx="225" cy="760" r="6"/></g><g id="np27"><circle class="P" cx="259" cy="768" r="6"/></g><g id="np28"><circle class="P" cx="290" cy="776" r="6"/></g><g id="np29"><circle class="P" cx="316" cy="760" r="6"/></g><g id="np30"><circle class="P" cx="347" cy="796" r="6.5"/></g><g id="np31"><circle class="P" cx="435" cy="787" r="6"/></g><g id="np32"><circle class="P" cx="452" cy="816" r="6"/></g><g id="np33"><circle class="P" cx="515" cy="797" r="6"/></g><g id="np34"><circle class="P" cx="553" cy="789" r="6"/></g><g id="np35"><circle class="P" cx="532" cy="821" r="6"/></g><g id="np36"><circle class="P" cx="546" cy="833" r="6"/></g><g id="np37"><circle class="P" cx="577" cy="821" r="6"/></g><g id="np38"><circle class="P" cx="613" cy="822" r="6"/></g><g id="np39"><circle class="P" cx="588" cy="765" r="6"/></g><g id="np40"><circle class="P" cx="540" cy="695" r="6"/></g><g id="np41"><circle class="P" cx="532" cy="721" r="6"/></g><g id="np42"><circle class="P" cx="302" cy="815" r="6"/></g><g id="np43"><circle class="P" cx="348" cy="848" r="6"/></g><g id="np44"><circle class="P" cx="380" cy="845" r="6"/></g><g id="np45"><circle class="P" cx="460" cy="860" r="6"/></g><g id="np46"><circle class="P" cx="72" cy="801" r="5.5"/></g><g id="np47"><circle class="P" cx="107" cy="845" r="5.5"/></g><g id="np48"><circle class="P" cx="143" cy="900" r="5.5"/></g><g id="np49"><circle class="P" cx="234" cy="885" r="5.5"/></g><g id="np50"><circle class="P" cx="251" cy="908" r="5.5"/></g><g id="np51"><circle class="P" cx="321" cy="917" r="5.5"/></g><g id="np52"><circle class="P" cx="371" cy="937" r="5.5"/></g><g id="np53"><circle class="P" cx="432" cy="921" r="5.5"/></g><g id="np54"><circle class="P" cx="505" cy="908" r="5.5"/></g><g id="np55"><circle class="P" cx="563" cy="956" r="5.5"/></g><g id="np56"><circle class="P" cx="411" cy="1006" r="5.5"/></g><g id="np57"><circle class="P" cx="244" cy="1013" r="5.5"/></g><g id="np58"><circle class="P" cx="605" cy="1011" r="5.5"/></g><g id="np59"><circle class="P" cx="606" cy="1127" r="5.5"/></g><g id="np60"><circle class="P" cx="681" cy="895" r="5.5"/></g><g id="np61"><circle class="P" cx="685" cy="759" r="5.5"/></g><g id="np62"><circle class="P" cx="677" cy="770" r="5.5"/></g><g id="np63"><circle class="P" cx="710" cy="848" r="5.5"/></g><g id="np64"><circle class="P" cx="758" cy="823" r="5.5"/></g><g id="np65"><circle class="P" cx="851" cy="762" r="5.5"/></g><g id="np66"><circle class="P" cx="1033" cy="852" r="5.5"/></g>
<g id="n7"><circle class="B" cx="488" cy="297" r="6.5"/></g>
<g id="n2"><circle class="B" cx="405" cy="423" r="9"/></g>
<g id="n73"><circle class="B" cx="480" cy="433" r="11"/></g>
<g id="n191"><circle class="B" cx="546" cy="413" r="19"/></g>
<g id="n76"><circle class="B" cx="433" cy="478" r="22"/></g>
<g id="n69"><circle class="B" cx="363" cy="497" r="9"/></g>
<g id="n6"><circle class="G" cx="522" cy="447" r="10"/></g>
<g id="n95"><circle class="R" cx="469" cy="479" r="14"/></g>
<g id="n124"><circle class="R" cx="499" cy="493" r="17"/></g>
<g id="n1"><circle class="R" cx="481" cy="508" r="12"/></g>
<g id="n244"><circle class="R" cx="559" cy="473" r="15"/></g>
<g id="n281"><circle class="R" cx="556" cy="511" r="14"/></g>
<g id="n136"><circle class="R" cx="421" cy="526" r="11"/></g>
<g id="n87"><circle class="R" cx="451" cy="542" r="10"/></g>
<g id="n111"><circle class="R" cx="479" cy="557" r="11"/></g>
<g id="n85"><circle class="R" cx="445" cy="566" r="6"/></g>
<g id="n78"><circle class="R" cx="532" cy="565" r="15"/></g>
<g id="n25"><circle class="R" cx="580" cy="558" r="16"/></g>
<g id="n21"><circle class="G" cx="552" cy="578" r="10"/></g>
<g id="n105"><circle class="R" cx="591" cy="591" r="11"/></g>
<g id="n123"><circle class="G" cx="584" cy="625" r="10"/></g>
<g id="n53"><circle class="P" cx="386" cy="580" r="11"/></g>
<g id="n56"><circle class="G" cx="604" cy="474" r="9"/></g>
<g id="n145"><circle class="G" cx="646" cy="479" r="14"/></g>
<g id="n49"><circle class="G" cx="688" cy="477" r="12"/></g>
<g id="n139"><circle class="G" cx="669" cy="480" r="15"/></g>
<g id="n43"><circle class="G" cx="682" cy="505" r="20"/></g>
<g id="n187"><circle class="G" cx="627" cy="510" r="11"/></g>
<g id="n84"><circle class="G" cx="613" cy="534" r="14"/></g>
<g id="n238"><circle class="G" cx="747" cy="506" r="10"/></g>
<g id="n91"><circle class="O" cx="714" cy="523" r="8"/></g>
<g id="n79"><circle class="O" cx="675" cy="377" r="8"/></g>
<g id="n48"><circle class="O" cx="655" cy="402" r="8"/></g>
<g id="n117"><circle class="G" cx="705" cy="424" r="12"/></g>
<g id="n216"><circle class="O" cx="651" cy="443" r="8"/></g>
<g id="n55"><circle class="O" cx="700" cy="445" r="8"/></g>
<g id="n189"><circle class="G" cx="677" cy="612" r="6"/></g>
<g id="n154"><circle class="P" cx="437" cy="662" r="16"/></g>
<g id="n232"><circle class="P" cx="440" cy="693" r="13"/></g>
<g id="n164"><circle class="P" cx="322" cy="668" r="6"/></g>
<g id="n299"><circle class="P" cx="336" cy="708" r="6"/></g>
<g id="n152"><circle class="P" cx="400" cy="728" r="6"/></g>
<g id="n110"><circle class="P" cx="333" cy="768" r="6"/></g>
<g id="n172"><circle class="P" cx="398" cy="790" r="6"/></g>
<g id="n250"><circle class="P" cx="487" cy="775" r="6"/></g>
</g>
<g id="labels">
<text id="l7" class="t k" x="488" y="297">7</text>
<text id="l2" class="t k" x="405" y="423">2</text>
<text id="l73" class="t k" x="480" y="433">73</text>
<text id="l191" class="t k" x="546" y="413">191</text>
<text id="l76" class="t k" x="433" y="478">76</text>
<text id="l69" class="t k" x="363" y="496">69</text>
<text id="l6" class="t w" x="522" y="447">6</text>
<text id="l95" class="t k" x="469" y="479">95</text>
<text id="l124" class="t k" x="500" y="492">124</text>
<text id="l1" class="t k" x="481" y="508">1</text>
<text id="l244" class="t w" x="560" y="473">244</text>
<text id="l281" class="t w" x="556" y="511">281</text>
<text id="l136" class="t w" x="421" y="526">136</text>
<text id="l87" class="t w" x="452" y="543">87</text>
<text id="l111" class="t k" x="480" y="557">111</text>
<text id="l85" class="t k" x="444" y="566">85</text>
<text id="l78" class="t k" x="533" y="565">78</text>
<text id="l25" class="t w" x="580" y="558">25</text>
<text id="l21" class="t w" x="552" y="580">21</text>
<text id="l105" class="t w" x="590" y="592">105</text>
<text id="l123" class="t w" x="583" y="625">123</text>
<text id="l53" class="t c" x="386" y="580">53</text>
<text id="l56" class="t w" x="605" y="475">56</text>
<text id="l145" class="t w" x="645" y="479">145</text>
<text id="l139" class="t k" x="670" y="483">139</text>
<text id="l49" class="t k" x="689" y="475">49</text>
<text id="l43" class="t k" x="682" y="506">43</text>
<text id="l187" class="t k" x="627" y="510">187</text>
<text id="l84" class="t k" x="613" y="534">84</text>
<text id="l238" class="t k" x="744" y="494">238</text>
<text id="l91" class="t k" x="714" y="522">91</text>
<text id="l79" class="t k" x="675" y="378">79</text>
<text id="l48" class="t k" x="655" y="402">48</text>
<text id="l117" class="t w" x="705" y="424">117</text>
<text id="l216" class="t k" x="651" y="443">216</text>
<text id="l55" class="t k" x="700" y="445">55</text>
<text id="l189" class="t k" x="677" y="612">189</text>
<text id="l154" class="t k" x="437" y="662">154</text>
<text id="l232" class="t k" x="444" y="691">232</text>
<text id="l164" class="t k" x="322" y="670">164</text>
<text id="l299" class="t k" x="336" y="710">299</text>
<text id="l152" class="t k" x="400" y="730">152</text>
<text id="l110" class="t k" x="333" y="770">110</text>
<text id="l172" class="t k" x="398" y="792">172</text>
<text id="l250" class="t k" x="487" y="776">250</text>
</g>
<g id="legend" class="lg">
<text x="752" y="955" fill="#d7191f">Cluster 1 “Human-Oriented“</text>
<text x="752" y="988" fill="#3a78b8">Cluster 2 “Task-Oriented“</text>
<text x="752" y="1022" fill="#3ca53f">Cluster 3 “Explainability-Oriented“</text>
<text x="752" y="1055" fill="#8e3f9c">Cluster 4 “Robot-Oriented“</text>
<text x="752" y="1088" fill="#f37c14">Cluster 5 “Agent-Oriented“</text>
</g>
</svg>
